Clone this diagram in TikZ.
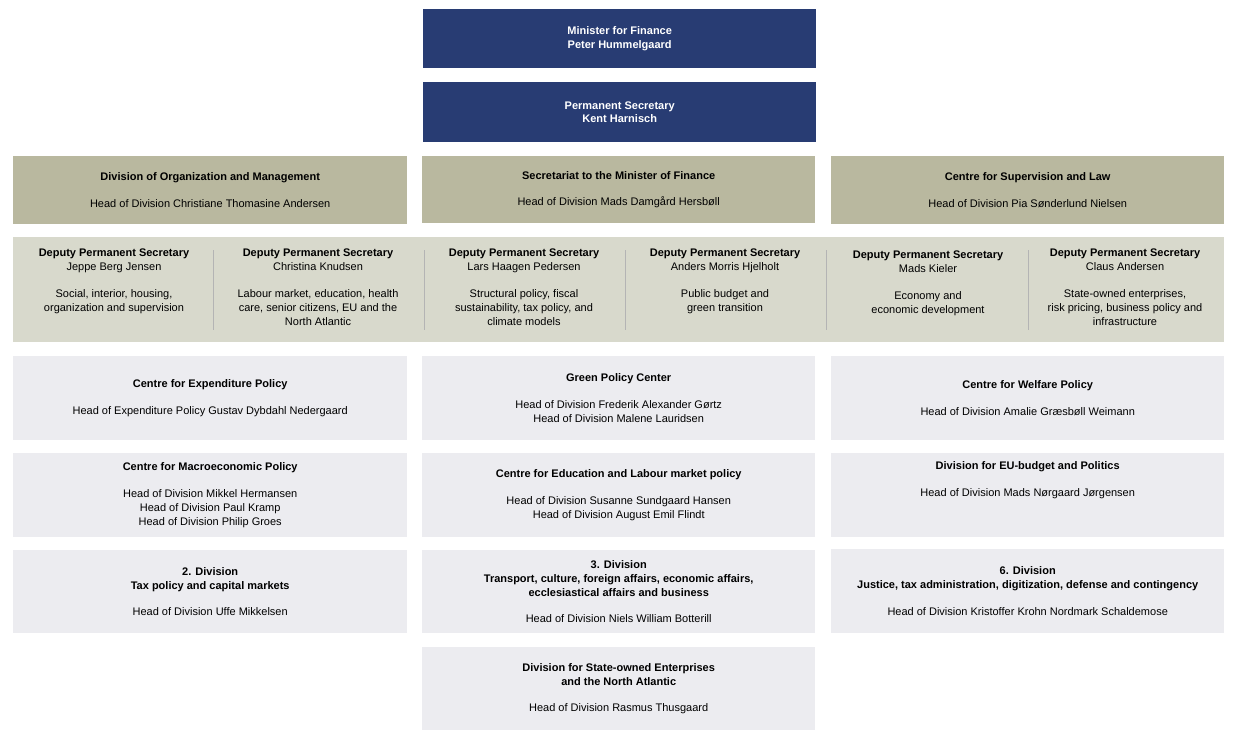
\documentclass[tikz,border=0pt]{standalone}
\usepackage{fontspec}
\setmainfont{Liberation Sans}
\definecolor{ministerblue}{HTML}{283C73}
\definecolor{divtan}{HTML}{B9B89F}
\definecolor{deputygrey}{HTML}{D8D9CC}
\definecolor{centregrey}{HTML}{ECECF0}
\definecolor{sepgrey}{HTML}{B4B4B4}
\tikzset{
  box/.style={anchor=north west,inner sep=0pt,align=center,font=\fontsize{11}{13.8}\selectfont},
  top/.style={box,fill=ministerblue,text=white,font=\bfseries\fontsize{11}{13.8}\selectfont},
  div/.style={box,fill=divtan},
  centre/.style={box,fill=centregrey},
  deputy/.style={inner sep=0pt,align=center,font=\fontsize{11}{13.8}\selectfont},
}
\begin{document}
\begin{tikzpicture}[x=1pt,y=-1pt]
  \useasboundingbox (0,0) rectangle (1238,738);
  % top
  \node[top,minimum width=393pt,minimum height=59pt] (minister) at (423,9){Minister for Finance\\Peter Hummelgaard};
  \node[top,minimum width=393pt,minimum height=60pt] (permsec) at (423,82){Permanent Secretary\\Kent Harnisch};
  % divisions
  \node[div,minimum width=394pt,minimum height=68pt] (org) at (13,156){\textbf{Division of Organization and Management}\\[13pt]Head of Division Christiane Thomasine Andersen};
  \node[div,minimum width=393pt,minimum height=67pt] (secr) at (422,156){\textbf{Secretariat to the Minister of Finance}\\[13pt]Head of Division Mads Damgård Hersbøll};
  \node[div,minimum width=393pt,minimum height=68pt] (law) at (831,156){\textbf{Centre for Supervision and Law}\\[13pt]Head of Division Pia Sønderlund Nielsen};
  % deputies
  \fill[deputygrey] (13,237) rectangle (1224,342);
  \foreach \x in {213,424,625,826,1028}
    \draw[sepgrey,line width=0.8pt] (\x,250) -- (\x,330);
  \node[deputy,anchor=north] (dep1) at (114,249){\textbf{Deputy Permanent Secretary}\\Jeppe Berg Jensen\\[13pt]Social, interior, housing,\\organization and supervision};
  \node[deputy,anchor=north] (dep2) at (318,249){\textbf{Deputy Permanent Secretary}\\Christina Knudsen\\[13pt]Labour market, education, health\\care, senior citizens, EU and the\\North Atlantic};
  \node[deputy,anchor=north] (dep3) at (524,249){\textbf{Deputy Permanent Secretary}\\Lars Haagen Pedersen\\[13pt]Structural policy, fiscal\\sustainability, tax policy, and\\climate models};
  \node[deputy,anchor=north] (dep4) at (725,249){\textbf{Deputy Permanent Secretary}\\Anders Morris Hjelholt\\[13pt]Public budget and\\green transition};
  \node[deputy,anchor=north] (dep5) at (928,251){\textbf{Deputy Permanent Secretary}\\Mads Kieler\\[13pt]Economy and\\economic development};
  \node[deputy,anchor=north] (dep6) at (1125,249){\textbf{Deputy Permanent Secretary}\\Claus Andersen\\[13pt]State-owned enterprises,\\risk pricing, business policy and\\infrastructure};
  % centres
  \node[centre,minimum width=394pt,minimum height=84pt] (expend) at (13,356){\textbf{Centre for Expenditure Policy}\\[13pt]Head of Expenditure Policy Gustav Dybdahl Nedergaard};
  \node[centre,minimum width=393pt,minimum height=84pt] (green) at (422,356){\textbf{Green Policy Center}\\[13pt]Head of Division Frederik Alexander Gørtz\\Head of Division Malene Lauridsen};
  \node[centre,minimum width=393pt,minimum height=84pt] (welfare) at (831,356){\textbf{Centre for Welfare Policy}\\[13pt]Head of Division Amalie Græsbøll Weimann};
  \node[centre,minimum width=394pt,minimum height=84pt] (macro) at (13,453){\textbf{Centre for Macroeconomic Policy}\\[13pt]Head of Division Mikkel Hermansen\\Head of Division Paul Kramp\\Head of Division Philip Groes};
  \node[centre,minimum width=393pt,minimum height=84pt] (educ) at (422,453){\textbf{Centre for Education and Labour market policy}\\[13pt]Head of Division Susanne Sundgaard Hansen\\Head of Division August Emil Flindt};
  \node[centre,minimum width=393pt,minimum height=84pt] (eubudget) at (831,453){\textbf{Division for EU-budget and Politics}\\[13pt]Head of Division Mads Nørgaard Jørgensen\\\strut\\\strut};
  \node[centre,minimum width=394pt,minimum height=83pt] (div2) at (13,550){\textbf{2. Division}\\\textbf{Tax policy and capital markets}\\[13pt]Head of Division Uffe Mikkelsen};
  \node[centre,minimum width=393pt,minimum height=83pt] (div3) at (422,550){\textbf{3. Division}\\\textbf{Transport, culture, foreign affairs, economic affairs,}\\\textbf{ecclesiastical affairs and business}\\[13pt]Head of Division Niels William Botterill};
  \node[centre,minimum width=393pt,minimum height=84pt] (div6) at (831,549){\textbf{6. Division}\\\textbf{Justice, tax administration, digitization, defense and contingency}\\[13pt]Head of Division Kristoffer Krohn Nordmark Schaldemose};
  \node[centre,minimum width=393pt,minimum height=83pt] (stateown) at (422,647){\textbf{Division for State-owned Enterprises}\\\textbf{and the North Atlantic}\\[13pt]Head of Division Rasmus Thusgaard};
\end{tikzpicture}
\end{document}
